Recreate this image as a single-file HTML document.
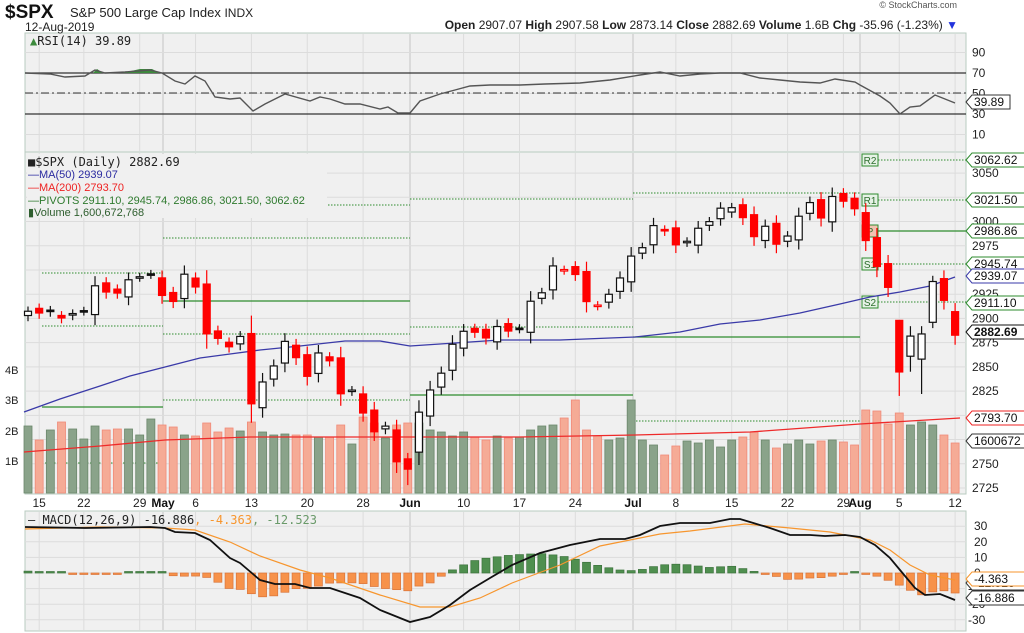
<!DOCTYPE html>
<html><head><meta charset="utf-8">
<style>
body{margin:0;background:#fff;width:1024px;height:633px;overflow:hidden;font-family:"Liberation Sans",sans-serif}
svg{position:absolute;left:0;top:0}
</style></head><body>
<svg id="s" width="1024" height="633" xmlns="http://www.w3.org/2000/svg" font-family="Liberation Sans, sans-serif"></svg>
<script>
var S=document.getElementById('s');var h='';
function a(x){h+=x;}
var L=25,R=966;
var C=[2907.41,2905.58,2907.06,2900.45,2905.03,2907.97,2933.68,2927.25,2926.17,2939.88,2943.03,2945.83,2923.73,2917.52,2945.64,2932.47,2884.05,2879.42,2870.72,2881.40,2811.87,2834.41,2850.96,2876.32,2859.53,2840.23,2864.36,2856.27,2822.24,2826.06,2802.39,2783.02,2788.86,2752.06,2744.45,2803.27,2826.15,2843.49,2873.34,2886.73,2885.72,2879.84,2891.64,2886.98,2889.67,2917.75,2926.46,2954.18,2950.46,2945.35,2917.38,2913.78,2924.92,2941.76,2964.33,2973.01,2995.82,2990.41,2975.95,2979.63,2993.07,2999.91,3013.77,3014.30,3004.04,2984.42,2995.11,2976.61,2985.03,3005.47,3019.56,3003.67,3025.86,3020.97,3013.18,2980.38,2953.56,2932.05,2844.74,2881.77,2883.98,2938.09,2918.65,2882.69];
var V=[426,440,430,422,429,439,426,430,429,429,435,419,425,427,435,436,423,432,428,431,422,432,435,434,435,435,437,437,425,444,417,423,438,425,423,423,430,432,436,432,437,440,436,438,437,430,426,425,418,400,430,436,440,438,400,440,445,455,446,441,443,440,447,440,437,432,440,448,444,440,444,441,440,442,445,410,411,424,413,425,422,425,435,443];
function X(i){return 28+i*11.17;}
function Y(p){return 488-(p-2725)*0.969;}
// panels background
a('<rect x="'+L+'" y="33" width="'+(R-L)+'" height="119" fill="#f0f0f0" stroke="#b9cbc0"/>');
a('<rect x="'+L+'" y="152" width="'+(R-L)+'" height="342" fill="#f0f0f0" stroke="#b9cbc0"/>');
a('<rect x="'+L+'" y="511" width="'+(R-L)+'" height="120" fill="#f0f0f0" stroke="#b9cbc0"/>');
// vertical grid
var wk=[{i:1,t:'15'},{i:5,t:'22'},{i:10,t:'29'},{i:15,t:'6'},{i:20,t:'13'},{i:25,t:'20'},{i:30,t:'28'},{i:39,t:'10'},{i:44,t:'17'},{i:49,t:'24'},{i:58,t:'8'},{i:63,t:'15'},{i:68,t:'22'},{i:73,t:'29'},{i:78,t:'5'},{i:83,t:'12'}];
var mo=[{x:163,t:'May'},{x:410,t:'Jun'},{x:633,t:'Jul'},{x:860,t:'Aug'}];
function vgrid(y1,y2){wk.forEach(function(w){a('<line x1="'+X(w.i)+'" y1="'+y1+'" x2="'+X(w.i)+'" y2="'+y2+'" stroke="#dcdcdc"/>');});
mo.forEach(function(m){a('<line x1="'+m.x+'" y1="'+y1+'" x2="'+m.x+'" y2="'+y2+'" stroke="#c4c4c4"/>');});}
vgrid(34,151);vgrid(153,493);vgrid(512,630);
// horizontal grid price
for(var p=2725;p<=3050;p+=25){a('<line x1="'+L+'" x2="'+R+'" y1="'+Y(p)+'" y2="'+Y(p)+'" stroke="#dcdcdc"/>');}
for(var v=10;v<=90;v+=20){var yy=144.75-1.025*v;a('<line x1="'+L+'" x2="'+R+'" y1="'+yy+'" y2="'+yy+'" stroke="#dcdcdc"/>');}
for(var m=-30;m<=30;m+=10){var yy=573-m*1.56;a('<line x1="'+L+'" x2="'+R+'" y1="'+yy+'" y2="'+yy+'" stroke="#dcdcdc"/>');}
// RSI
a('<line x1="'+L+'" x2="'+R+'" y1="73" y2="73" stroke="#333" stroke-width="1.2"/>');
a('<line x1="'+L+'" x2="'+R+'" y1="114" y2="114" stroke="#333" stroke-width="1.2"/>');
a('<line x1="'+L+'" x2="'+R+'" y1="93" y2="93" stroke="#333" stroke-dasharray="8,3,2,3"/>');
var rsi=[[25,73],[50,74],[65,77],[85,76],[95,70],[105,73],[125,72],[150,70],[162,73],[175,81],[185,84],[195,76],[205,81],[215,97],[230,99],[240,98],[253,111],[265,104],[285,94],[310,101],[320,97],[330,99],[345,104],[360,104],[380,109],[388,107],[398,113],[410,113],[420,101],[440,94],[455,90],[470,86],[490,85],[520,85],[545,84],[580,83],[610,80],[640,75],[660,72],[680,76],[700,74],[720,73],[740,73],[760,78],[780,80],[800,82],[820,83],[835,79],[855,82],[860,85],[880,96],[890,103],[900,114],[910,107],[920,106],[935,95],[955,103]];
a('<polygon points="93,73 97,69 103,73" fill="#3c8a3c"/><polygon points="122,73 140,69 152,69 160,73" fill="#3c8a3c"/>');
a('<polyline fill="none" stroke="#555" stroke-width="1.4" points="'+rsi.map(function(q){return q.join(',')}).join(' ')+'"/>');
// pivots
function pl(x1,x2,y,solid){a('<line x1="'+x1+'" x2="'+x2+'" y1="'+y+'" y2="'+y+'" stroke="#2e8b2e" '+(solid?'stroke-width="1.3"':'stroke-dasharray="1.5,1.5"')+'/>');}
pl(42,163,273);pl(42,163,326);pl(42,163,407,1);pl(42,163,463);
pl(322,410,205);pl(163,410,238);pl(163,410,301,1);pl(163,410,334);pl(163,410,400);
pl(410,633,199);pl(410,633,327);pl(410,633,395,1);
pl(633,860,193);pl(633,860,337,1);pl(633,860,421);
pl(878,966,160);pl(878,966,200);pl(878,966,231,1);pl(878,966,264);pl(878,966,302);
[['R2',160],['R1',200],['P',231],['S1',264],['S2',302]].forEach(function(q){a('<rect x="862" y="'+(q[1]-6)+'" width="16" height="12" fill="'+(q[0]=='P'?'#f3c2b0':'#e6f2e6')+'" stroke="#2e8b2e"/><text x="870" y="'+(q[1]+4)+'" font-size="10" fill="#2e6e2e" text-anchor="middle">'+q[0]+'</text>');});
// volume
for(var i=0;i<C.length;i++){var up=i==0||C[i]>=C[i-1];a('<rect x="'+(X(i)-4)+'" y="'+V[i]+'" width="8" height="'+(493-V[i])+'" fill="'+(up?'#8aa38a':'#f5ab96')+'" stroke="'+(up?'#6b876b':'#f08a78')+'" stroke-width="0.8"/>');}
// MAs
a('<polyline fill="none" stroke="#ee2a2a" stroke-width="1.3" points="24,452 100,446 165,440 250,437 410,437 520,437 635,435 750,432 860,424 960,418"/>');
a('<polyline fill="none" stroke="#3a3aa8" stroke-width="1.3" points="24,412 60,399 100,386 130,376 165,367 200,358 230,354 260,350 300,346 345,341 380,341 410,346 440,344 500,340 560,340 635,337 680,332 720,324 760,320 800,313 840,304 870,297 900,292 930,286 955,277"/>');
// candles
var wick={34:[2728,0],78:[2820,2898],79:[2845,2892],80:[2822,2892],81:[2890,2944]};
for(var i=0;i<C.length;i++){var c=C[i],o=i==0?2903:C[i-1]+(i%3==0?-4:3);
if(i==78)o=2898;if(i==79)o=2861;if(i==80)o=2858;if(i==81)o=2896;if(i==35)o=2762;if(i==83)o=2907;
var up=i==0||c>=C[i-1];var col=up?'#111':'#f00';var hi=Math.max(o,c)+4+Math.abs(c-o)*0.2,lo=Math.min(o,c)-5-Math.abs(c-o)*0.2;
if(wick[i]){if(wick[i][0])lo=wick[i][0];if(wick[i][1])hi=wick[i][1];}
var x=X(i);a('<line x1="'+x+'" x2="'+x+'" y1="'+Y(hi)+'" y2="'+Y(lo)+'" stroke="'+col+'" stroke-width="1.2"/>');
var t=Y(Math.max(o,c)),b=Y(Math.min(o,c));if(b-t<1.5)b=t+1.5;
a('<rect x="'+(x-3.5)+'" y="'+t+'" width="7" height="'+(b-t)+'" fill="'+(c<o?col:'#fff')+'" stroke="'+col+'" stroke-width="1.2"/>');}
// MACD
var mk=[[25,527],[85,528],[150,527],[165,528],[175,532],[195,533],[210,540],[230,558],[240,563],[260,580],[275,584],[295,584],[310,588],[330,588],[345,593],[360,598],[380,610],[410,622],[430,617],[450,605],[470,590],[490,578],[512,565],[540,553],[570,545],[600,539],[625,539],[640,535],[660,526],[680,523],[710,523],[730,519],[740,519],[750,522],[770,528],[790,535],[810,535],[825,536],[845,535],[860,537],[875,545],[890,558],[905,576],[915,588],[925,595],[940,594],[955,600]];
var sg=[[25,529],[100,527],[165,528],[195,530],[230,542],[260,556],[300,570],[330,578],[380,595],[420,607],[450,607],[480,598],[512,583],[560,565],[600,546],[630,540],[660,534],[690,531],[745,524],[790,528],[830,532],[870,540],[890,550],[910,565],[930,575],[955,580]];
function it(arr,x){for(var k=1;k<arr.length;k++){if(x<=arr[k][0]){var f=(x-arr[k-1][0])/(arr[k][0]-arr[k-1][0]);return arr[k-1][1]+f*(arr[k][1]-arr[k-1][1]);}}return arr[arr.length-1][1];}
for(var i=0;i<C.length;i++){var x=X(i);var d=it(mk,x)-it(sg,x);var pos=d<0;var hgt=Math.max(Math.abs(d),1.5);
a('<rect x="'+(x-4)+'" y="'+(pos?573-hgt:573)+'" width="8" height="'+hgt+'" fill="'+(pos?'#4f8f4f':'#f7924a')+'" stroke="'+(pos?'#3d733d':'#d9743a')+'" stroke-width="0.7"/>');}
a('<polyline fill="none" stroke="#f7962e" stroke-width="1.2" points="'+sg.map(function(q){return q.join(',')}).join(' ')+'"/>');
a('<polyline fill="none" stroke="#111" stroke-width="1.8" points="'+mk.map(function(q){return q.join(',')}).join(' ')+'"/>');
// legends
a('<text x="30" y="45" font-size="12" fill="#222" font-family="DejaVu Sans Mono,monospace"><tspan fill="#3c8a3c">&#9650;</tspan>RSI(14) 39.89</text>');
a('<rect x="27" y="154" width="300" height="64" fill="#f0f0f0"/>');
a('<text x="28" y="166" font-size="12" fill="#222" font-family="DejaVu Sans Mono,monospace">&#9632;$SPX (Daily) 2882.69</text>');
a('<text x="28" y="178" font-size="11" fill="#2a2aa0">&#8212;MA(50) 2939.07</text>');
a('<text x="28" y="191" font-size="11" fill="#e22">&#8212;MA(200) 2793.70</text>');
a('<text x="28" y="204" font-size="11" fill="#2e7a2e">&#8212;PIVOTS 2911.10, 2945.74, 2986.86, 3021.50, 3062.62</text>');
a('<text x="28" y="216" font-size="11" fill="#2e5e2e">&#9646;Volume 1,600,672,768</text>');
a('<text x="28" y="524" font-size="12" fill="#222" font-family="DejaVu Sans Mono,monospace">&#8212; MACD(12,26,9) -16.886<tspan fill="#f7962e">, -4.363</tspan><tspan fill="#6a9a6a">, -12.523</tspan></text>');
// volume labels
[['4B',370],['3B',400],['2B',431],['1B',461]].forEach(function(q){a('<text x="5" y="'+(q[1]+4)+'" font-size="11" fill="#222">'+q[0]+'</text>');});
// x axis labels
wk.forEach(function(w){a('<text x="'+X(w.i)+'" y="507" font-size="12" fill="#222" text-anchor="middle">'+w.t+'</text>');});
mo.forEach(function(m){a('<text x="'+m.x+'" y="507" font-size="12" font-weight="bold" fill="#111" text-anchor="middle">'+m.t+'</text>');});
// right axis
[90,70,50,30,10].forEach(function(v){a('<text x="972" y="'+(144.75-1.025*v+4)+'" font-size="12" fill="#222">'+v+'</text>');});
[3050,3000,2975,2925,2900,2875,2850,2825,2775,2750,2725].forEach(function(p){a('<text x="972" y="'+(Y(p)+4)+'" font-size="12" fill="#222">'+p+'</text>');});
[30,20,10,0,-10,-20,-30].forEach(function(m){a('<text x="'+(m<0?968:974)+'" y="'+(573-m*1.56+4)+'" font-size="12" fill="#222">'+m+'</text>');});
function tag(y,t,c,bold,w){w=w||54;a('<path d="M966,'+y+' L972,'+(y-7)+' L'+(972+w)+','+(y-7)+' L'+(972+w)+','+(y+7)+' L972,'+(y+7)+' Z" fill="#fff" stroke="'+c+'"/><text x="974" y="'+(y+4)+'" font-size="12" fill="#111"'+(bold?' font-weight="bold"':'')+'>'+t+'</text>');}
tag(102,'39.89','#333',0,38);
tag(160,'3062.62','#2e8b2e');tag(200,'3021.50','#2e8b2e');tag(231,'2986.86','#2e8b2e');tag(264,'2945.74','#2e8b2e');tag(276,'2939.07','#3a3aa8');tag(303,'2911.10','#2e8b2e');tag(332,'2882.69','#111',1);tag(418,'2793.70','#e22');tag(441,'1600672','#333');
tag(583,'-12.523','#333');tag(579,'-4.363','#f7962e');tag(598,'-16.886','#333');
// header
a('<text x="5" y="18" font-size="19" font-weight="bold" fill="#111">$SPX</text><text x="70" y="17" font-size="13" fill="#222">S&amp;P 500 Large Cap Index <tspan font-size="12">INDX</tspan></text>');
a('<text x="25" y="31" font-size="12" fill="#222">12-Aug-2019</text>');
a('<text x="957" y="8" font-size="9" fill="#555" text-anchor="end">&#169; StockCharts.com</text>');
a('<text x="958" y="29" font-size="12" fill="#222" text-anchor="end"><tspan font-weight="bold">Open</tspan> 2907.07  <tspan font-weight="bold">High</tspan> 2907.58  <tspan font-weight="bold">Low</tspan> 2873.14  <tspan font-weight="bold">Close</tspan> 2882.69  <tspan font-weight="bold">Volume</tspan> 1.6B  <tspan font-weight="bold">Chg</tspan> -35.96 (-1.23%) <tspan fill="#2233dd">&#9660;</tspan></text>');
S.innerHTML=h;
</script>
</body></html>
